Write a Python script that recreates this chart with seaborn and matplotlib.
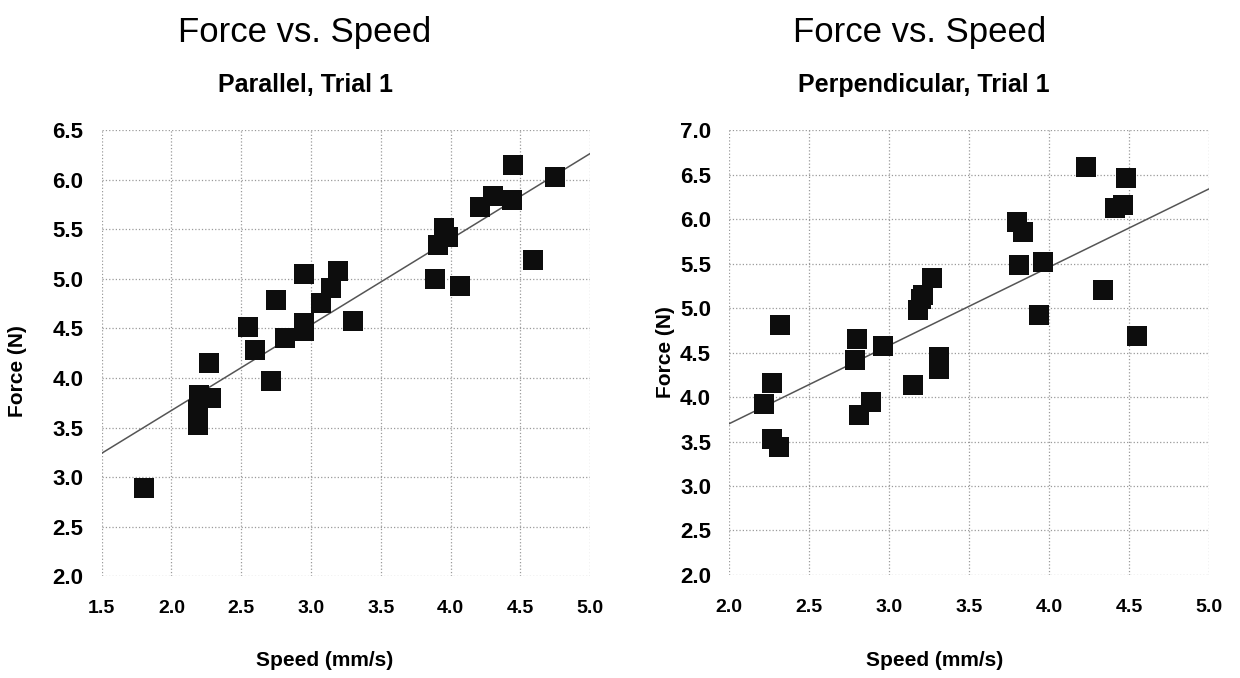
import matplotlib
matplotlib.use("Agg")
import matplotlib.pyplot as plt
import seaborn as sns

# =====================
# DATA
# =====================
par_speed = [1.80, 2.19, 2.19, 2.20, 2.28, 2.27, 2.55, 2.60, 2.71, 2.75,
             2.81, 2.95, 2.95, 2.95, 3.07, 3.14, 3.19, 3.30, 3.89, 4.07,
             3.91, 3.95, 3.98, 4.21, 4.30, 4.44, 4.45, 4.59, 4.75]
par_force = [2.89, 3.53, 3.68, 3.83, 3.80, 4.15, 4.51, 4.28, 3.97, 4.79,
             4.40, 4.55, 4.47, 5.05, 4.76, 4.91, 5.08, 4.58, 5.00, 4.93,
             5.34, 5.51, 5.42, 5.73, 5.84, 5.80, 6.15, 5.19, 6.03]

perp_speed = [2.22, 2.27, 2.32, 2.27, 2.31, 2.81, 2.89, 2.80, 2.79, 2.96,
              3.15, 3.31, 3.31, 3.18, 3.20, 3.21, 3.27, 3.80, 3.84, 3.81,
              3.96, 3.94, 4.23, 4.48, 4.41, 4.46, 4.34, 4.55]
perp_force = [3.92, 4.16, 4.81, 3.53, 3.44, 3.80, 3.94, 4.65, 4.42, 4.57,
              4.14, 4.45, 4.32, 4.98, 5.10, 5.15, 5.34, 5.97, 5.85, 5.48,
              5.52, 4.92, 6.59, 6.46, 6.13, 6.16, 5.20, 4.69]

# trend lines as printed on the chart: (slope, intercept)
par_fit = (0.864, 1.945)
perp_fit = (0.880, 1.940)

titles = ["Force vs. Speed", "Force vs. Speed"]
subtitles = ["Parallel, Trial 1", "Perpendicular, Trial 1"]
par_xticks = [1.5, 2.0, 2.5, 3.0, 3.5, 4.0, 4.5, 5.0]
par_yticks = [2.0, 2.5, 3.0, 3.5, 4.0, 4.5, 5.0, 5.5, 6.0, 6.5]
perp_xticks = [2.0, 2.5, 3.0, 3.5, 4.0, 4.5, 5.0]
perp_yticks = [2.0, 2.5, 3.0, 3.5, 4.0, 4.5, 5.0, 5.5, 6.0, 6.5, 7.0]

# =====================
# STYLE
# =====================
sns.set_style("white")
plt.rcParams["font.family"] = ["Liberation Sans", "DejaVu Sans"]
for key in ["text.color", "axes.labelcolor", "xtick.color", "ytick.color"]:
    plt.rcParams[key] = "black"

fig = plt.figure(figsize=(12.4, 6.78), dpi=100)
ax1 = fig.add_axes([0.082, 0.150, 0.394, 0.658])
ax2 = fig.add_axes([0.588, 0.152, 0.387, 0.656])


def draw_panel(ax, x, y, fit, xticks, yticks, xlabel_pos, ylabel_pos):
    sns.regplot(x=x, y=y, ax=ax, fit_reg=False, marker="s",
                scatter_kws={"s": 225, "color": "#0d0d0d", "alpha": 1,
                             "linewidths": 0, "zorder": 3})
    slope, intercept = fit
    ax.axline((0, intercept), slope=slope, color="#555555", linewidth=1.1, zorder=2)
    ax.set_xlim(xticks[0], xticks[-1])
    ax.set_ylim(yticks[0], yticks[-1])
    ax.set_xticks(xticks)
    ax.set_yticks(yticks)
    ax.set_xticklabels([f"{t:.1f}" for t in xticks], fontsize=14, fontweight="bold")
    ax.set_yticklabels([f"{t:.1f}" for t in yticks], fontsize=16, fontweight="bold")
    ax.tick_params(axis="x", length=0, pad=17)
    ax.tick_params(axis="y", length=0, pad=13)
    ax.grid(True, color="#9a9a9a", linestyle=":", linewidth=0.9)
    for s in ax.spines.values():
        s.set_visible(False)
    ax.set_xlabel("Speed (mm/s)", fontsize=15, fontweight="bold")
    ax.set_ylabel("Force (N)", fontsize=15, fontweight="bold")
    ax.xaxis.set_label_coords(*xlabel_pos)
    ax.yaxis.set_label_coords(*ylabel_pos)


draw_panel(ax1, par_speed, par_force, par_fit, par_xticks, par_yticks,
           (0.457, -0.168), (-0.153, 0.46))
draw_panel(ax2, perp_speed, perp_force, perp_fit, perp_xticks, perp_yticks,
           (0.429, -0.171), (-0.112, 0.50))

# titles sit over the whole panel, not the axes
fig.text(0.246, 0.952, titles[0], ha="center", va="center", fontsize=25)
fig.text(0.246, 0.874, subtitles[0], ha="center", va="center", fontsize=18, fontweight="bold")
fig.text(0.742, 0.952, titles[1], ha="center", va="center", fontsize=25)
fig.text(0.745, 0.874, subtitles[1], ha="center", va="center", fontsize=18, fontweight="bold")

plt.savefig("out.png", dpi=100)
